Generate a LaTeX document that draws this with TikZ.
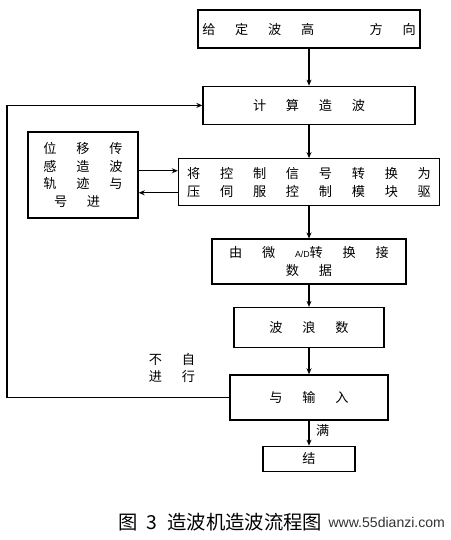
\documentclass[tikz,border=0pt]{standalone}
\usepackage{fontspec}
\newfontfamily\cjk{Noto Sans CJK SC}
\setsansfont{Liberation Sans}
\usepackage{tikz}
\usetikzlibrary{arrows.meta, positioning}
\newcommand{\zsp}{\hspace{1.5em}}
\newcommand{\zk}[1]{\makebox[2.5em][l]{#1}}

\begin{document}
\begin{tikzpicture}[
    x=0.02cm, y=-0.02cm,
    node distance=5mm,
    box/.style={draw, thick, inner sep=1pt, align=center, font=\cjk\fontsize{7.5}{10}\selectfont},
    lbl/.style={inner sep=1pt, align=center, font=\cjk\fontsize{7.5}{10}\selectfont},
    arr/.style={-{Stealth[length=1.2mm, width=1mm]}, semithick}
]
\useasboundingbox (0,0) rectangle (450,540);
\node[box, minimum width=4.44cm, minimum height=7.6mm] (gd) at (309,29) {给\zsp 定\zsp 波\zsp 高\hspace{4.2em}方\zsp 向};
\node[box, minimum width=4.24cm, minimum height=7.6mm, below=7.4mm of gd] (js) {计\zsp 算\zsp 造\zsp 波};
\node[box, minimum width=5.22cm, minimum height=9.4mm, below=6.6mm of js] (zh) {将\zsp 控\zsp 制\zsp 信\zsp 号\zsp 转\zsp 换\zsp 为\\压\zsp 伺\zsp 服\zsp 控\zsp 制\zsp 模\zsp 块\zsp 驱};
\node[box, minimum width=3.88cm, minimum height=9mm, below=6.4mm of zh] (wj) {由\zsp 微\zsp {\sffamily\fontsize{5}{6}\selectfont A/D}转\zsp 换\zsp 接\\数\zsp 据};
\node[box, minimum width=3cm, minimum height=8mm, below=4.4mm of wj] (bl) {波\zsp 浪\zsp 数};
\node[box, minimum width=3.16cm, minimum height=9mm, below=5.2mm of bl] (sr) {与\zsp 输\zsp 入};
\node[box, minimum width=1.84cm, minimum height=5mm, below=5mm of sr] (js2) {结};
% sensor box, columns kept in line
\node[box, minimum width=2.2cm, minimum height=1.72cm, align=left] (cg) at (83,175) {\zk{位}\zk{移}传\\\zk{感}\zk{造}波\\\zk{轨}\zk{迹}与\\\hspace{0.8em}\zk{号}进};
\node[lbl] (bm) at (172,368) {不\zsp 自\\进\zsp 行};
\node[lbl, right=1mm of js2.north] (man) [yshift=3mm] {满};
\coordinate (fb) at (7,0);
\coordinate (p1) at ([yshift=2.3mm]zh.west);
\coordinate (p2) at ([yshift=-2.1mm]zh.west);
\foreach \x/\y in {gd/js, js/zh, zh/wj, wj/bl, bl/sr, sr/js2} \draw[arr] (\x) -- (\y);
\draw[arr] (p1 -| cg.east) -- (p1);
\draw[arr] (p2) -- (p2 -| cg.east);
\draw[arr] (sr.west) -- (sr.west -| fb) |- (js.west);
\node[font=\cjk\fontsize{11}{13}\selectfont] (cap) at (220,522) {图\enspace 3\enspace 造波机造波流程图};
\node[font=\sffamily\fontsize{8}{10}\selectfont, text=black!80, inner sep=0pt, anchor=west] (wm) at (cap.east) {www.55dianzi.com};
\end{tikzpicture}
\end{document}
